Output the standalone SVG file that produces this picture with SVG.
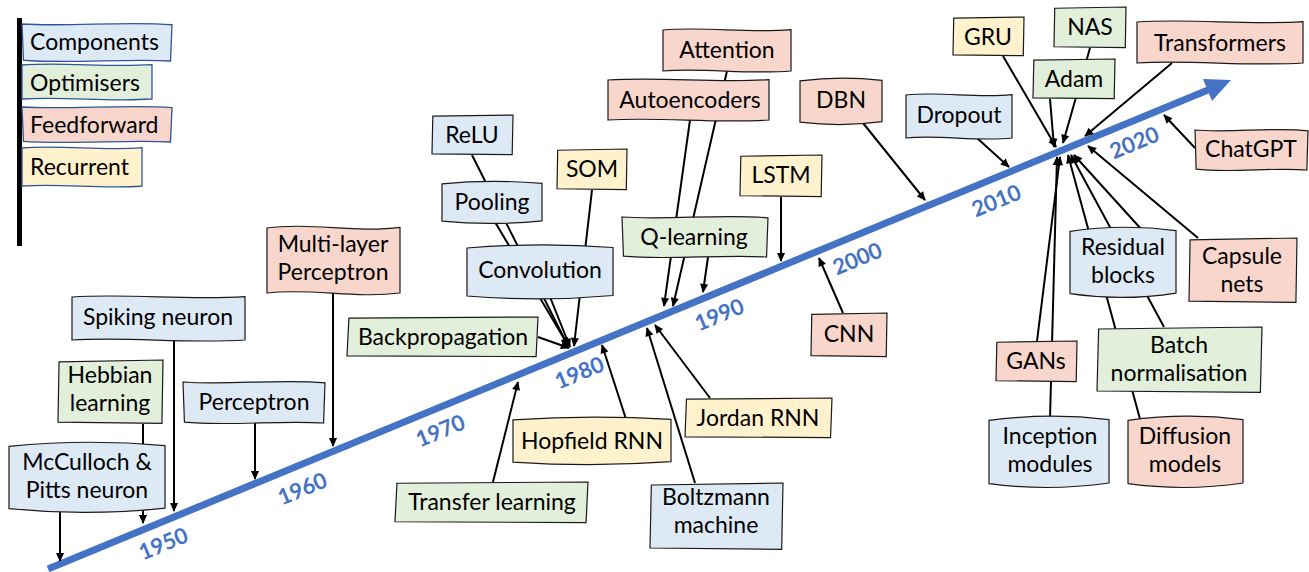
<svg xmlns="http://www.w3.org/2000/svg" width="1309" height="572" viewBox="0 0 1309 572">
<style>
.bx{stroke:#1a1a1a;stroke-width:1.2}
.lg{stroke:#2F5597;stroke-width:1.3}
.blue{fill:#DDEAF6}
.green{fill:#E2EFDA}
.pink{fill:#F8D6CB}
.yellow{fill:#FFF2CC}
.t{font-family:Lato,"Open Sans",sans-serif;font-size:23px;fill:#000;text-anchor:middle}
.tl{font-family:Lato,"Open Sans",sans-serif;font-size:23px;fill:#000}
.yr{font-family:Lato,"Open Sans",sans-serif;font-size:22px;font-weight:bold;fill:#4472C4;text-anchor:middle;dominant-baseline:central}
.c{stroke:#000;stroke-width:2;fill:none;marker-end:url(#ah)}
</style>
<defs>
<marker id="ah" viewBox="0 0 10 10" refX="9" refY="5" markerWidth="10" markerHeight="9" markerUnits="userSpaceOnUse" orient="auto"><path d="M0,0.5 L10,5 L0,9.5 z" fill="#000"/></marker>
<path id="fA" vector-effect="non-scaling-stroke" d="M0,0 C0.33,-0.09 0.66,0.08 1,-0.01 L1,1 C0.66,1.09 0.33,0.92 0,1 Z"/>
<path id="fB" vector-effect="non-scaling-stroke" d="M0,0.02 Q0.5,-0.1 1,0.01 L1,0.97 Q0.5,1.1 0,0.98 Z"/>
<path id="fC" vector-effect="non-scaling-stroke" d="M0,0 C0.3,0.08 0.7,-0.08 1,0.02 L0.99,1 C0.7,0.93 0.3,1.08 0.01,0.98 Z"/>
<path id="fD" vector-effect="non-scaling-stroke" d="M0.01,0.03 L1,0 L0.99,0.99 L0,0.97 Z"/>
</defs>

<g id="legend">
<rect x="17" y="18" width="5" height="228" fill="#000"/>
<use href="#fC" class="lg blue" transform="translate(22 24) scale(150 37)"/>
<text class="tl" x="30" y="50">Components</text>
<use href="#fA" class="lg green" transform="translate(22 65) scale(130 34)"/>
<text class="tl" x="30" y="91">Optimisers</text>
<use href="#fC" class="lg pink" transform="translate(22 107) scale(150 35)"/>
<text class="tl" x="30" y="133">Feedforward</text>
<use href="#fA" class="lg yellow" transform="translate(22 148) scale(120 38)"/>
<text class="tl" x="30" y="175">Recurrent</text>
</g>

<g id="timeline">
<line x1="48" y1="569" x2="1208" y2="90" stroke="#4472C4" stroke-width="7"/>
<polygon points="1231,80 1203,79 1212,101" fill="#4472C4"/>
<text class="yr" transform="translate(163 543) rotate(-22.4)">1950</text>
<text class="yr" transform="translate(302 488) rotate(-22.4)">1960</text>
<text class="yr" transform="translate(440 430) rotate(-22.4)">1970</text>
<text class="yr" transform="translate(579 372) rotate(-22.4)">1980</text>
<text class="yr" transform="translate(719 314) rotate(-22.4)">1990</text>
<text class="yr" transform="translate(857 258) rotate(-22.4)">2000</text>
<text class="yr" transform="translate(996 200) rotate(-22.4)">2010</text>
<text class="yr" transform="translate(1134 142) rotate(-22.4)">2020</text>
</g>

<g id="connectors">
<line class="c" x1="60" y1="510" x2="60" y2="561"/>
<line class="c" x1="143" y1="424" x2="143" y2="523"/>
<line class="c" x1="174" y1="340" x2="174" y2="511"/>
<line class="c" x1="255" y1="423" x2="255" y2="479"/>
<line class="c" x1="333" y1="293" x2="333" y2="446"/>
<line class="c" x1="538" y1="337" x2="569" y2="348"/>
<line class="c" x1="472" y1="155" x2="568" y2="346"/>
<line class="c" x1="495" y1="222" x2="569" y2="347"/>
<line class="c" x1="550" y1="297" x2="570" y2="347"/>
<line class="c" x1="592" y1="190" x2="574" y2="346"/>
<line class="c" x1="493" y1="482" x2="518" y2="382"/>
<line class="c" x1="626" y1="419" x2="602" y2="345"/>
<line class="c" x1="727" y1="71" x2="673" y2="306"/>
<line class="c" x1="690" y1="120" x2="664" y2="306"/>
<line class="c" x1="708" y1="257" x2="703" y2="292"/>
<line class="c" x1="695" y1="483" x2="647" y2="328"/>
<line class="c" x1="710" y1="398" x2="655" y2="325"/>
<line class="c" x1="781" y1="197" x2="781" y2="261"/>
<line class="c" x1="843" y1="313" x2="819" y2="258"/>
<line class="c" x1="863" y1="123" x2="925" y2="200"/>
<line class="c" x1="977" y1="138" x2="1009" y2="167"/>
<line class="c" x1="1003" y1="56" x2="1056" y2="147"/>
<line class="c" x1="1050" y1="99" x2="1054" y2="147"/>
<line class="c" x1="1090" y1="48" x2="1063" y2="143"/>
<line class="c" x1="1172" y1="63" x2="1085" y2="136"/>
<line class="c" x1="1195" y1="148" x2="1164" y2="115"/>
<line class="c" x1="1198" y1="238" x2="1088" y2="146"/>
<line class="c" x1="1142" y1="230" x2="1074" y2="155"/>
<line class="c" x1="1164" y1="327" x2="1071" y2="155"/>
<line class="c" x1="1140" y1="419" x2="1068" y2="155"/>
<line class="c" x1="1037" y1="341" x2="1060" y2="157"/>
<line class="c" x1="1050" y1="419" x2="1057" y2="157"/>
</g>

<g id="n-mcculloch"><use href="#fB" class="bx blue" transform="translate(9 445) scale(156 65)"/><text class="t" x="87" y="470">McCulloch &amp;</text><text class="t" x="87" y="498">Pitts neuron</text></g>
<g id="n-hebbian"><use href="#fD" class="bx green" transform="translate(58 360) scale(105 64)"/><text class="t" x="110" y="383">Hebbian</text><text class="t" x="110" y="411">learning</text></g>
<g id="n-spiking"><use href="#fA" class="bx blue" transform="translate(72 297) scale(173 43)"/><text class="t" x="158" y="325">Spiking neuron</text></g>
<g id="n-perceptron"><use href="#fC" class="bx blue" transform="translate(183 382) scale(142 41)"/><text class="t" x="254" y="410">Perceptron</text></g>
<g id="n-mlp"><use href="#fA" class="bx pink" transform="translate(267 228) scale(133 65)"/><text class="t" x="333" y="252">Multi-layer</text><text class="t" x="333" y="280">Perceptron</text></g>
<g id="n-backprop"><use href="#fD" class="bx green" transform="translate(347 317) scale(191 40)"/><text class="t" x="443" y="345">Backpropagation</text></g>
<g id="n-relu"><use href="#fD" class="bx blue" transform="translate(432 115) scale(81 40)"/><text class="t" x="472" y="143">ReLU</text></g>
<g id="n-pooling"><use href="#fB" class="bx blue" transform="translate(442 183) scale(100 39)"/><text class="t" x="492" y="210">Pooling</text></g>
<g id="n-som"><use href="#fD" class="bx yellow" transform="translate(557 149) scale(70 41)"/><text class="t" x="592" y="177">SOM</text></g>
<g id="n-convolution"><use href="#fB" class="bx blue" transform="translate(467 247) scale(146 50)"/><text class="t" x="540" y="278">Convolution</text></g>
<g id="n-attention"><use href="#fA" class="bx pink" transform="translate(663 30) scale(128 41)"/><text class="t" x="727" y="58">Attention</text></g>
<g id="n-autoencoders"><use href="#fA" class="bx pink" transform="translate(608 80) scale(161 40)"/><text class="t" x="690" y="108">Autoencoders</text></g>
<g id="n-dbn"><use href="#fB" class="bx pink" transform="translate(800 80) scale(82 43)"/><text class="t" x="841" y="108">DBN</text></g>
<g id="n-lstm"><use href="#fD" class="bx yellow" transform="translate(740 155) scale(82 42)"/><text class="t" x="781" y="183">LSTM</text></g>
<g id="n-qlearning"><use href="#fC" class="bx green" transform="translate(622 217) scale(146 40)"/><text class="t" x="694" y="245">Q-learning</text></g>
<g id="n-cnn"><use href="#fD" class="bx pink" transform="translate(811 313) scale(76 44)"/><text class="t" x="849" y="342">CNN</text></g>
<g id="n-dropout"><use href="#fA" class="bx blue" transform="translate(906 95) scale(106 43)"/><text class="t" x="959" y="123">Dropout</text></g>
<g id="n-gru"><use href="#fD" class="bx yellow" transform="translate(953 17) scale(71 39)"/><text class="t" x="988" y="45">GRU</text></g>
<g id="n-nas"><use href="#fD" class="bx green" transform="translate(1054 7) scale(72 41)"/><text class="t" x="1090" y="35">NAS</text></g>
<g id="n-adam"><use href="#fD" class="bx green" transform="translate(1033 59) scale(82 40)"/><text class="t" x="1074" y="87">Adam</text></g>
<g id="n-transformers"><use href="#fA" class="bx pink" transform="translate(1137 22) scale(166 41)"/><text class="t" x="1220" y="51">Transformers</text></g>
<g id="n-chatgpt"><use href="#fC" class="bx pink" transform="translate(1195 130) scale(113 40)"/><text class="t" x="1251" y="157">ChatGPT</text></g>
<g id="n-capsule"><use href="#fD" class="bx pink" transform="translate(1189 238) scale(108 65)"/><text class="t" x="1242" y="264">Capsule</text><text class="t" x="1242" y="292">nets</text></g>
<g id="n-residual"><use href="#fB" class="bx blue" transform="translate(1070 230) scale(106 65)"/><text class="t" x="1123" y="255">Residual</text><text class="t" x="1123" y="283">blocks</text></g>
<g id="n-gans"><use href="#fD" class="bx pink" transform="translate(996 341) scale(81 41)"/><text class="t" x="1036" y="369">GANs</text></g>
<g id="n-inception"><use href="#fB" class="bx blue" transform="translate(989 419) scale(120 66)"/><text class="t" x="1050" y="444">Inception</text><text class="t" x="1050" y="472">modules</text></g>
<g id="n-batch"><use href="#fD" class="bx green" transform="translate(1097 327) scale(165 66)"/><text class="t" x="1179" y="353">Batch</text><text class="t" x="1179" y="381">normalisation</text></g>
<g id="n-diffusion"><use href="#fB" class="bx pink" transform="translate(1128 419) scale(115 66)"/><text class="t" x="1185" y="444">Diffusion</text><text class="t" x="1185" y="472">models</text></g>
<g id="n-transfer"><use href="#fD" class="bx green" transform="translate(395 482) scale(193 41)"/><text class="t" x="492" y="510">Transfer learning</text></g>
<g id="n-hopfield"><use href="#fB" class="bx yellow" transform="translate(513 419) scale(158 44)"/><text class="t" x="592" y="449">Hopfield RNN</text></g>
<g id="n-jordan"><use href="#fD" class="bx yellow" transform="translate(685 398) scale(147 40)"/><text class="t" x="758" y="426">Jordan RNN</text></g>
<g id="n-boltzmann"><use href="#fD" class="bx blue" transform="translate(650 483) scale(133 67)"/><text class="t" x="716" y="505">Boltzmann</text><text class="t" x="716" y="533">machine</text></g>
</svg>
